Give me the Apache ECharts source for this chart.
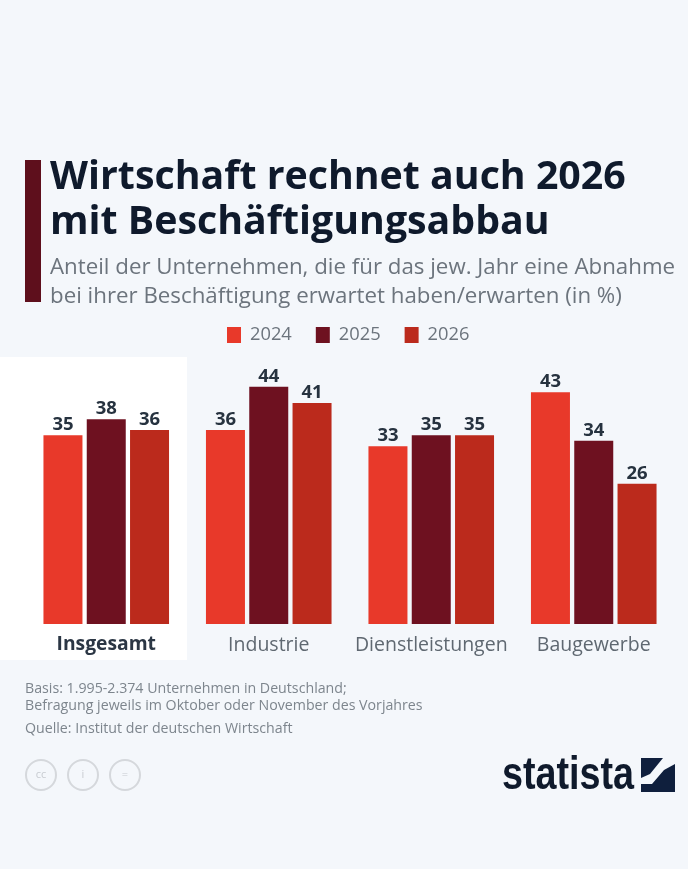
<!DOCTYPE html>
<html><head><meta charset="utf-8">
<style>html,body{margin:0;padding:0;background:#f4f7fb}#c{width:688px;height:869px}</style>
<script src="https://cdn.jsdelivr.net/npm/echarts@6/dist/echarts.min.js"></script>
</head><body><div id="c"></div>
<script>
const categories = ['Insgesamt', 'Industrie', 'Dienstleistungen', 'Baugewerbe'];
const years = ['2024', '2025', '2026'];
const values2024 = [35, 36, 33, 43];
const values2025 = [38, 44, 35, 34];
const values2026 = [36, 41, 35, 26];
const colors = ['#e8392a', '#6e1120', '#bb2a1c'];
const titleLines = 'Wirtschaft rechnet auch 2026\nmit Beschäftigungsabbau';
const subtitleLines = 'Anteil der Unternehmen, die für das jew. Jahr eine Abnahme\nbei ihrer Beschäftigung erwartet haben/erwarten (in %)';
const noteLines = 'Basis: 1.995-2.374 Unternehmen in Deutschland;\nBefragung jeweils im Oktober oder November des Vorjahres';
const sourceLine = 'Quelle: Institut der deutschen Wirtschaft';

const font = '"Open Sans", sans-serif';
const chart = echarts.init(document.getElementById('c'), null, {renderer: 'canvas'});
const allSeries = [values2024, values2025, values2026].map((d, i) => ({
  name: years[i], type: 'bar', data: d, barWidth: 39, barGap: '11%',
  itemStyle: {color: colors[i]},
  label: {show: true, position: 'top', distance: 1, fontFamily: font, fontSize: 18.5, fontWeight: 'bold', color: '#26323f'}
}));
const circle = (cx, txt) => [
  {type: 'circle', shape: {cx, cy: 775, r: 15}, style: {fill: 'none', stroke: '#d5d8dc', lineWidth: 2}},
  {type: 'text', style: {x: cx, y: 775, text: txt, align: 'center', verticalAlign: 'middle', font: '11px "Open Sans"', fill: '#c8ccd1'}}
];
chart.setOption({
  animation: false,
  backgroundColor: '#f4f7fb',
  title: [
    {text: titleLines, left: 50, top: 155.5, padding: 0, textStyle: {fontFamily: font, fontSize: 39.3, fontWeight: 'bold', lineHeight: 45, color: '#0f1a2c'}},
    {text: subtitleLines, left: 50, top: 253, padding: 0, textStyle: {fontFamily: font, fontSize: 22.3, fontWeight: 'normal', lineHeight: 29, color: '#6c747d'}},
    {text: noteLines, left: 25, top: 680, padding: 0, textStyle: {fontFamily: font, fontSize: 14.2, fontWeight: 'normal', lineHeight: 17, color: '#7d858d'}},
    {text: sourceLine, left: 25, top: 720, padding: 0, textStyle: {fontFamily: font, fontSize: 14.2, fontWeight: 'normal', lineHeight: 17, color: '#7d858d'}}
  ],
  legend: {
    data: years, left: 227, top: 326, padding: 0, itemWidth: 14, itemHeight: 16, itemGap: 24, icon: 'rect',
    textStyle: {fontFamily: font, fontSize: 18.3, color: '#6c747d', padding: [0, 0, 0, 4]}
  },
  grid: {left: 25, width: 650, top: 354.5, height: 269.5},
  xAxis: {
    type: 'category', data: categories,
    axisLine: {show: false}, axisTick: {show: false},
    axisLabel: {
      interval: 0, margin: 11,
      fontFamily: font, fontSize: 19.5, color: '#5f6871',
      formatter: (v, i) => i === 0 ? '{b|' + v + '}' : v,
      rich: {b: {fontFamily: font, fontSize: 19.3, fontWeight: 'bold', color: '#2b3644'}}
    }
  },
  yAxis: {type: 'value', min: 0, max: 50, show: false},
  series: allSeries,
  graphic: [
    {type: 'rect', z: -1, silent: true, shape: {x: 0, y: 357, width: 187, height: 303}, style: {fill: '#ffffff'}},
    {type: 'rect', shape: {x: 25, y: 160, width: 16, height: 142}, style: {fill: '#5e0f1c'}},
    ...circle(41, 'cc'), ...circle(83, 'i'), ...circle(125, '='),
    {type: 'text', x: 502, y: 776, scaleX: 0.82, style: {x: 0, y: 0, text: 'statista', verticalAlign: 'middle', font: 'bold 46px "Liberation Sans"', fill: '#0f1a2c'}},
    {type: 'rect', shape: {x: 641, y: 758, width: 34, height: 34}, style: {fill: '#0f1f3d'}},
    {type: 'polygon', shape: {points: [[641, 784], [652, 784], [664, 770], [675, 764], [675, 758], [663, 758], [650, 774], [641, 778]]}, style: {fill: '#f4f7fb'}}
  ]
});
</script></body></html>
